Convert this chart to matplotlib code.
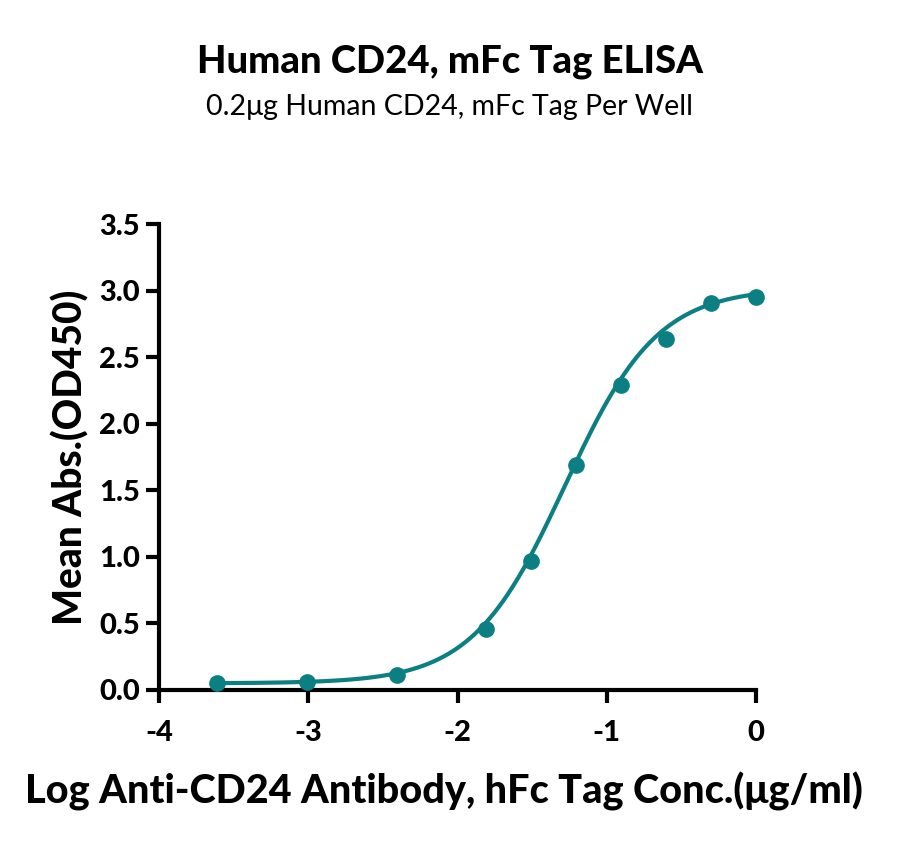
import numpy as np
import matplotlib
matplotlib.use("Agg")
import matplotlib.pyplot as plt

# Data (log10 concentration, mean OD450)
log_conc = [-3.612, -3.010, -2.408, -1.806, -1.505, -1.204, -0.903, -0.602, -0.301, 0.0]
mean_abs = [0.05, 0.06, 0.11, 0.46, 0.97, 1.69, 2.29, 2.64, 2.91, 2.95]

# 4PL fit parameters
fit_bottom = 0.05
fit_top = 3.02
fit_logec50 = -1.28
fit_hill = 1.4

xticks = [-4, -3, -2, -1, 0]
xticklabels = ["-4", "-3", "-2", "-1", "0"]
yticks = [0.0, 0.5, 1.0, 1.5, 2.0, 2.5, 3.0, 3.5]
yticklabels = ["0.0", "0.5", "1.0", "1.5", "2.0", "2.5", "3.0", "3.5"]

title = "Human CD24, mFc Tag ELISA"
subtitle = "0.2\u03bcg Human CD24, mFc Tag Per Well"
xlabel = "Log Anti-CD24 Antibody, hFc Tag Conc.(\u03bcg/ml)"
ylabel = "Mean Abs.(OD450)"

color = "#0b7f82"
plt.rcParams['font.family'] = ['Lato', 'DejaVu Sans']

fig = plt.figure(figsize=(9, 8.46), dpi=100)
ax = fig.add_axes([159/900, 1-690/846, (756-159)/900, (690-224)/846])

xs = np.linspace(min(log_conc), max(log_conc), 400)
ys = fit_bottom + (fit_top - fit_bottom) / (1 + 10 ** ((fit_logec50 - xs) * fit_hill))
ax.plot(xs, ys, color=color, lw=3, clip_on=False, zorder=3)
ax.plot(log_conc, mean_abs, 'o', color=color, ms=11, clip_on=False, zorder=4)

ax.set_xlim(-4, 0)
ax.set_ylim(0, 3.5)
ax.set_xticks(xticks)
ax.set_xticklabels(xticklabels)
ax.set_yticks(yticks)
ax.set_yticklabels(yticklabels)
for s in ['top', 'right']:
    ax.spines[s].set_visible(False)
for s in ['left', 'bottom']:
    ax.spines[s].set_linewidth(3)
ax.tick_params(width=3, length=9.5, labelsize=21)
ax.tick_params(axis='x', pad=12)
ax.tick_params(axis='y', pad=4)
for lab in ax.get_xticklabels() + ax.get_yticklabels():
    lab.set_fontweight('black')

ax.set_xlabel(xlabel, fontsize=28.5, fontweight='black')
ax.xaxis.set_label_coords(0.478, -0.175)
ax.set_ylabel(ylabel, fontsize=28, fontweight='black', labelpad=7)

fig.text(0.5, 1-62/846, title, ha='center', va='center', fontsize=27.5, fontweight='black')
fig.text(0.5, 1-107/846, subtitle, ha='center', va='center', fontsize=20.5)

fig.savefig("out.png", dpi=100)
